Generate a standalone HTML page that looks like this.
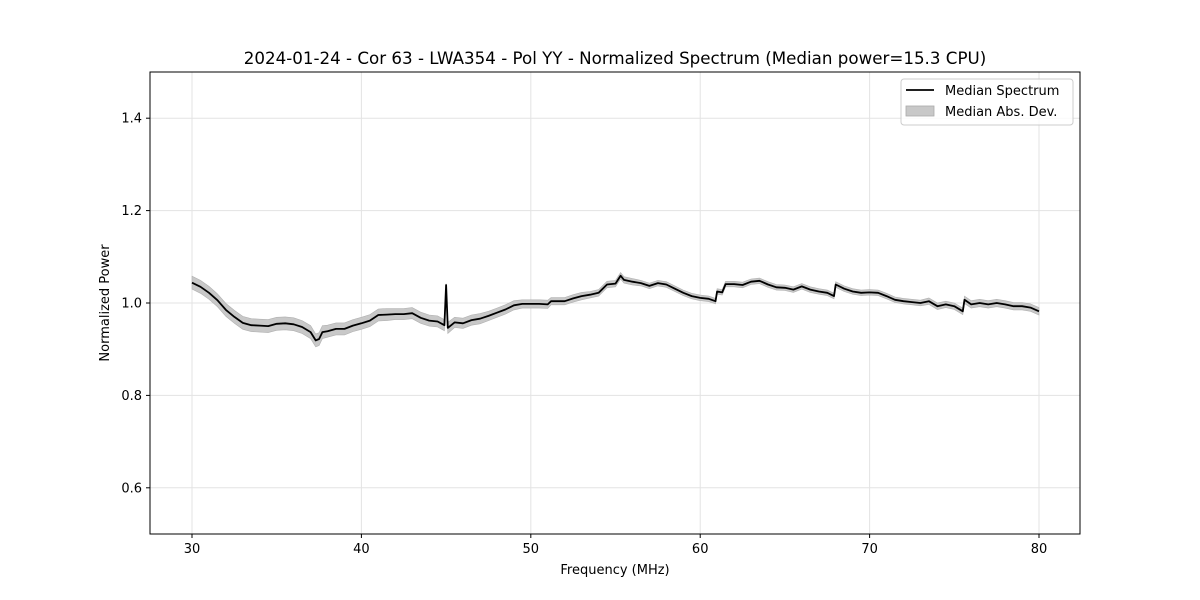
<!DOCTYPE html>
<html><head><meta charset="utf-8"><style>
html,body{margin:0;padding:0;background:#fff;}
svg{display:block;font-family:"DejaVu Sans","Liberation Sans",sans-serif;}
</style></head><body>
<svg id="chart" width="1200" height="600" viewBox="0 0 1200 600">
<rect width="1200" height="600" fill="#fff"/>
<g id="grid"></g>
<g id="band"></g>
<g id="line"></g>
<rect x="150" y="72" width="930" height="462" fill="none" stroke="#000" stroke-width="1"/>
<g id="xticks"></g>
<g id="yticks"></g>
<text x="615" y="64" text-anchor="middle" font-size="16.7">2024-01-24 - Cor 63 - LWA354 - Pol YY - Normalized Spectrum (Median power=15.3 CPU)</text>
<text x="615" y="574" text-anchor="middle" font-size="13">Frequency (MHz)</text>
<text transform="translate(109,303) rotate(-90)" text-anchor="middle" font-size="13">Normalized Power</text>
<g>
<rect x="901" y="79" width="172" height="46" rx="3" fill="#fff" fill-opacity="0.8" stroke="#ccc"/>
<line x1="906" y1="90" x2="934" y2="90" stroke="#000" stroke-width="1.8"/>
<text x="945" y="95" font-size="13">Median Spectrum</text>
<rect x="906" y="106" width="28" height="10" fill="#c8c8c8" stroke="#aaa" stroke-width="0.8"/>
<text x="945" y="116" font-size="13">Median Abs. Dev.</text>
</g>
</svg>
<script>
const freqs=[30,30.5,31,31.5,32,32.5,33,33.5,34,34.5,35,35.5,36,36.5,37,37.3,37.5,37.7,38,38.5,39,39.5,40,40.5,41,41.5,42,42.5,43,43.5,44,44.5,44.9,45,45.1,45.5,46,46.5,47,47.5,48,48.5,49,49.5,50,50.5,51,51.2,52,52.5,53,53.5,54,54.5,55,55.3,55.5,56,56.5,57,57.5,58,58.5,59,59.5,60,60.5,60.9,61,61.3,61.5,62,62.5,63,63.5,64,64.5,65,65.5,66,66.5,67,67.5,67.9,68,68.5,69,69.5,70,70.5,71,71.5,72,72.5,73,73.5,74,74.5,75,75.5,75.6,76,76.5,77,77.5,78,78.5,79,79.5,80];
const medians=[1.044,1.035,1.022,1.006,0.985,0.970,0.957,0.952,0.951,0.950,0.955,0.956,0.954,0.948,0.937,0.919,0.922,0.937,0.939,0.944,0.944,0.951,0.956,0.962,0.974,0.975,0.976,0.976,0.978,0.968,0.962,0.960,0.952,1.039,0.946,0.958,0.956,0.963,0.966,0.972,0.979,0.986,0.995,0.998,0.998,0.998,0.997,1.004,1.004,1.010,1.015,1.018,1.022,1.040,1.042,1.059,1.050,1.046,1.043,1.037,1.043,1.040,1.031,1.022,1.015,1.011,1.009,1.004,1.025,1.023,1.041,1.041,1.039,1.046,1.048,1.040,1.034,1.033,1.029,1.036,1.029,1.025,1.022,1.015,1.040,1.031,1.025,1.022,1.023,1.022,1.015,1.007,1.004,1.002,1.000,1.004,0.993,0.997,0.993,0.982,1.007,0.997,1.000,0.997,1.000,0.997,0.993,0.993,0.990,0.982];
const mads=[0.014,0.014,0.014,0.014,0.014,0.014,0.014,0.014,0.014,0.014,0.014,0.014,0.014,0.014,0.014,0.014,0.014,0.014,0.013,0.013,0.013,0.013,0.013,0.013,0.013,0.013,0.012,0.012,0.012,0.012,0.012,0.012,0.012,0.003,0.012,0.011,0.011,0.011,0.011,0.010,0.010,0.010,0.010,0.009,0.009,0.009,0.009,0.008,0.008,0.008,0.008,0.007,0.007,0.007,0.007,0.007,0.007,0.007,0.006,0.006,0.006,0.006,0.006,0.006,0.006,0.006,0.006,0.006,0.006,0.006,0.006,0.006,0.006,0.006,0.006,0.006,0.006,0.006,0.006,0.006,0.006,0.006,0.006,0.006,0.006,0.006,0.006,0.006,0.006,0.006,0.006,0.006,0.006,0.006,0.006,0.007,0.007,0.007,0.007,0.007,0.008,0.008,0.008,0.008,0.008,0.008,0.008,0.008,0.008,0.008];
const xTicks=[30,40,50,60,70,80];
const yTicks=[0.6,0.8,1.0,1.2,1.4];
const yTickLabels=["0.6","0.8","1.0","1.2","1.4"];

const X0=150,X1=1080,Y0=534,Y1=72,xmin=27.52,xmax=82.42,ymin=0.5,ymax=1.5;
const sx=v=>X0+(v-xmin)/(xmax-xmin)*(X1-X0);
const sy=v=>Y0-(v-ymin)/(ymax-ymin)*(Y0-Y1);
const NS='http://www.w3.org/2000/svg';
function mk(tag,attrs,parent){const e=document.createElementNS(NS,tag);for(const k in attrs)e.setAttribute(k,attrs[k]);parent.appendChild(e);return e;}
const grid=document.getElementById('grid'),xt=document.getElementById('xticks'),yt=document.getElementById('yticks');
xTicks.forEach(t=>{const x=sx(t);
 const g=mk('line',{x1:x,x2:x,y1:Y1,y2:Y0,stroke:'#e3e3e3','stroke-width':1},grid);
 
 
 const tk=mk('line',{x1:x,x2:x,y1:Y0,y2:Y0+4,stroke:'#000'},xt);
 
 
 const lb=mk('text',{x:x,y:Y0+19,'text-anchor':'middle','font-size':13},xt);
 lb.textContent=String(t);
 
 
});
yTicks.forEach((t,i)=>{const y=sy(t);
 const g=mk('line',{x1:X0,x2:X1,y1:y,y2:y,stroke:'#e3e3e3','stroke-width':1},grid);
 
 
 const tk=mk('line',{x1:X0-4,x2:X0,y1:y,y2:y,stroke:'#000'},yt);
 
 
 const lb=mk('text',{x:X0-8,y:y+4.5,'text-anchor':'end','font-size':13},yt);
 lb.textContent=yTickLabels[i];
 
 
});
let up=freqs.map((f,i)=>sx(f).toFixed(1)+','+sy(medians[i]+mads[i]).toFixed(1));
let dn=freqs.map((f,i)=>sx(f).toFixed(1)+','+sy(medians[i]-mads[i]).toFixed(1)).reverse();
const band=mk('polygon',{points:up.concat(dn).join(' '),fill:'#c8c8c8',stroke:'#b0b0b0','stroke-width':0.6},document.getElementById('band'));


const ln=mk('polyline',{points:freqs.map((f,i)=>sx(f).toFixed(1)+','+sy(medians[i]).toFixed(1)).join(' '),fill:'none',stroke:'#000','stroke-width':1.8,'stroke-linejoin':'round'},document.getElementById('line'));


</script>
</body></html>
